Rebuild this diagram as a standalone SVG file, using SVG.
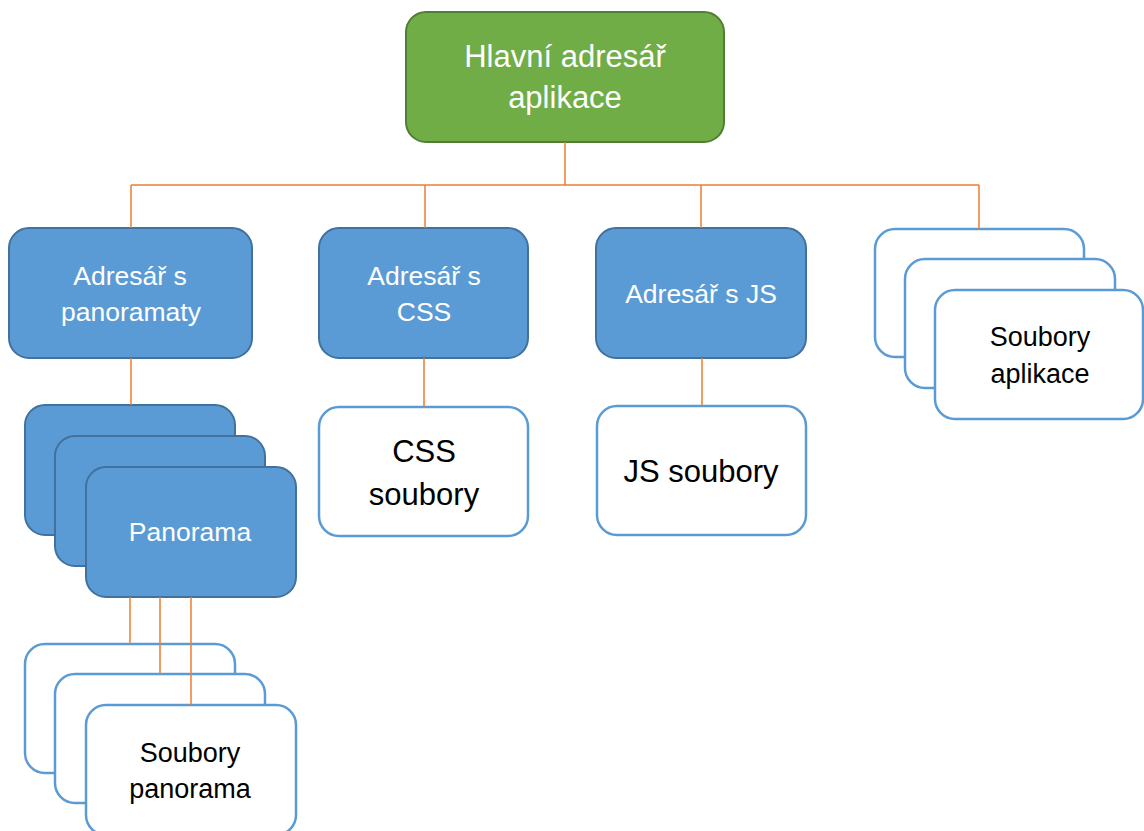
<svg xmlns="http://www.w3.org/2000/svg" width="1144" height="831" viewBox="0 0 1144 831">
  <style>
    .root { fill: #70AD47; stroke: #507E32; stroke-width: 2; }
    .dir { fill: #5B9BD5; stroke: #41719C; stroke-width: 2; }
    .file { fill: #FFFFFF; stroke: #5B9BD5; stroke-width: 2.5; }
    .wire { fill: none; stroke: #ED7D31; stroke-width: 1.5; }
    text { font-family: "Liberation Sans", Arial, sans-serif; text-anchor: middle; }
    .lw { fill: #FFFFFF; font-size: 26.5px; }
    .lroot { fill: #FFFFFF; font-size: 31px; }
    .lb { fill: #000000; font-size: 27px; }
    .lbig { fill: #000000; font-size: 31px; }
  </style>

  <rect width="1144" height="831" fill="#FFFFFF"/>

  <!-- root folder -->
  <g id="root">
    <rect class="root" x="406" y="12" width="318" height="130" rx="20"/>
    <text class="lroot" x="565" y="67">Hlavní adresář</text>
    <text class="lroot" x="565" y="108">aplikace</text>
  </g>

  <!-- sub-folders -->
  <g id="dir-panoramas">
    <rect class="dir" x="9" y="228" width="243" height="130" rx="20"/>
    <text class="lw" x="130" y="285">Adresář s</text>
    <text class="lw" x="131" y="321">panoramaty</text>
  </g>

  <g id="dir-css">
    <rect class="dir" x="319" y="228" width="209" height="130" rx="20"/>
    <text class="lw" x="424" y="285">Adresář s</text>
    <text class="lw" x="424" y="321">CSS</text>
  </g>

  <g id="dir-js">
    <rect class="dir" x="596" y="228" width="210" height="130" rx="20"/>
    <text class="lw" x="701" y="303">Adresář s JS</text>
  </g>

  <!-- application files (stack) -->
  <g id="app-files">
    <rect class="file" x="875" y="229" width="209" height="128" rx="20"/>
    <rect class="file" x="905" y="259" width="210" height="129" rx="20"/>
    <rect class="file" x="935" y="290" width="208" height="129" rx="20"/>
    <text class="lb" x="1040" y="346">Soubory</text>
    <text class="lb" x="1040" y="383">aplikace</text>
  </g>

  <!-- panorama folders (stack) -->
  <g id="panorama">
    <rect class="dir" x="25" y="405" width="210" height="130" rx="20"/>
    <rect class="dir" x="55" y="436" width="210" height="130" rx="20"/>
    <rect class="dir" x="86" y="467" width="210" height="130" rx="20"/>
    <text class="lw" x="190" y="541">Panorama</text>
  </g>

  <g id="css-files">
    <rect class="file" x="319" y="407" width="209" height="129" rx="20"/>
    <text class="lbig" x="424" y="462">CSS</text>
    <text class="lbig" x="424" y="505">soubory</text>
  </g>

  <g id="js-files">
    <rect class="file" x="597" y="406" width="209" height="129" rx="20"/>
    <text class="lbig" x="701" y="482">JS soubory</text>
  </g>

  <!-- panorama files (stack) -->
  <g id="panorama-files">
    <rect class="file" x="25" y="644" width="210" height="129" rx="20"/>
    <rect class="file" x="55" y="674" width="210" height="129" rx="20"/>
    <rect class="file" x="86" y="705" width="210" height="130" rx="20"/>
    <text class="lb" x="190" y="762">Soubory</text>
    <text class="lb" x="190" y="798">panorama</text>
  </g>

  <!-- connectors -->
  <g id="connectors" class="wire">
    <path d="M565 142 V185"/>
    <path d="M131 185 H979"/>
    <path d="M131 185 V228"/>
    <path d="M425 185 V228"/>
    <path d="M701 185 V228"/>
    <path d="M979 185 V229"/>
    <path d="M131 358 V405"/>
    <path d="M424 358 V407"/>
    <path d="M702 358 V406"/>
    <path d="M130 597 V644"/>
    <path d="M160 597 V674"/>
    <path d="M191 597 V705"/>
  </g>
</svg>
